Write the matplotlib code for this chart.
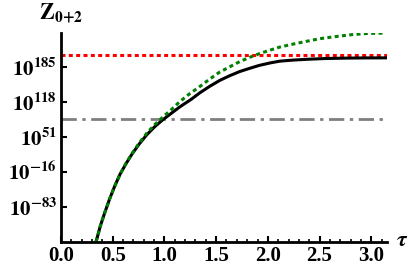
#!/usr/bin/env python3
"""Z_{0+2} against tau on a log axis, with two reference levels."""
import numpy as np
import matplotlib
matplotlib.use("Agg")
import matplotlib.pyplot as plt
from matplotlib.ticker import FixedLocator, MultipleLocator, NullLocator

# log10 of Z
tau_black = [0.339, 0.38, 0.42, 0.47, 0.516, 0.57, 0.63, 0.69, 0.759, 0.83, 0.904, 0.98,
             1.066, 1.146, 1.26, 1.34, 1.44, 1.534, 1.63, 1.727, 1.82, 1.92, 2.02, 2.116,
             2.24, 2.374, 2.55, 2.75, 2.95, 3.14]
log_black = [-150, -120, -96, -68, -45, -21, 0, 19, 38, 55, 70, 83,
             96, 108, 123, 135, 148, 159, 168, 176, 182, 188, 192.5, 196,
             198, 199.5, 201, 201.8, 202.2, 202.3]

tau_green = [0.339, 0.38, 0.42, 0.47, 0.516, 0.57, 0.63, 0.69, 0.759, 0.83, 0.904, 0.98,
             1.066, 1.146, 1.24, 1.34, 1.44, 1.534, 1.63, 1.727, 1.82, 1.92, 2.02, 2.116,
             2.24, 2.374, 2.50, 2.632, 2.80, 2.955, 3.14]
log_green = [-150, -120, -96, -68, -45, -21, 1, 20, 40, 58, 74, 88,
             103, 118, 133, 147, 162, 175, 185, 195, 203, 210.5, 217, 223,
             228.5, 234, 239, 242.5, 246.5, 249, 249.8]

log_red = 208.7
log_gray = 84.5

ytick_exp = [-83, -16, 51, 118, 185]
xticks = [0.0, 0.5, 1.0, 1.5, 2.0, 2.5, 3.0]

plt.rcParams["font.family"] = "Liberation Serif"
plt.rcParams["font.weight"] = "bold"
plt.rcParams["mathtext.fontset"] = "stix"

fig = plt.figure(figsize=(4.15, 2.68), dpi=100)
ax = fig.add_axes([0.147, 0.098, 0.785, 0.779])

x_end = 3.15
ax.plot([0, x_end], [10.0 ** log_red] * 2, color="red", lw=2.2, ls=(0, (1.3, 1.1)))
ax.plot([0, x_end], [10.0 ** log_gray] * 2, color="#7f7f7f", lw=2.0, ls=(0, (5.5, 2.0, 1.2, 2.0)))
ax.plot(tau_black, 10.0 ** np.array(log_black), color="black", lw=2.2)
ax.plot(tau_green, 10.0 ** np.array(log_green), color="#008000", lw=2.2, ls=(0, (1.3, 1.1)))

ax.set_yscale("log")
ax.set_xlim(0, x_end)
ax.set_ylim(1e-150, 1e250)

ax.yaxis.set_major_locator(FixedLocator([10.0 ** e for e in ytick_exp]))
ax.yaxis.set_minor_locator(NullLocator())
ax.set_yticklabels([r"$\mathbf{10^{%d}}$" % e for e in ytick_exp], fontsize=15)
ax.set_xticks(xticks)
ax.set_xticklabels([f"{v:.1f}" for v in xticks], fontsize=15, fontweight="bold")
ax.xaxis.set_minor_locator(MultipleLocator(0.1))

for side in ("top", "right"):
    ax.spines[side].set_visible(False)
for side in ("left", "bottom"):
    ax.spines[side].set_linewidth(2)
ax.tick_params(which="major", direction="in", length=4, width=1.5, pad=3)
ax.tick_params(which="minor", direction="in", length=2, width=1.2)

fig.text(0.095, 0.93, r"$\mathbf{Z_{0{+}2}}$", fontsize=16)
fig.text(0.955, 0.1, r"$\tau$", fontsize=16, va="center")

fig.savefig("out.png", dpi=100)
